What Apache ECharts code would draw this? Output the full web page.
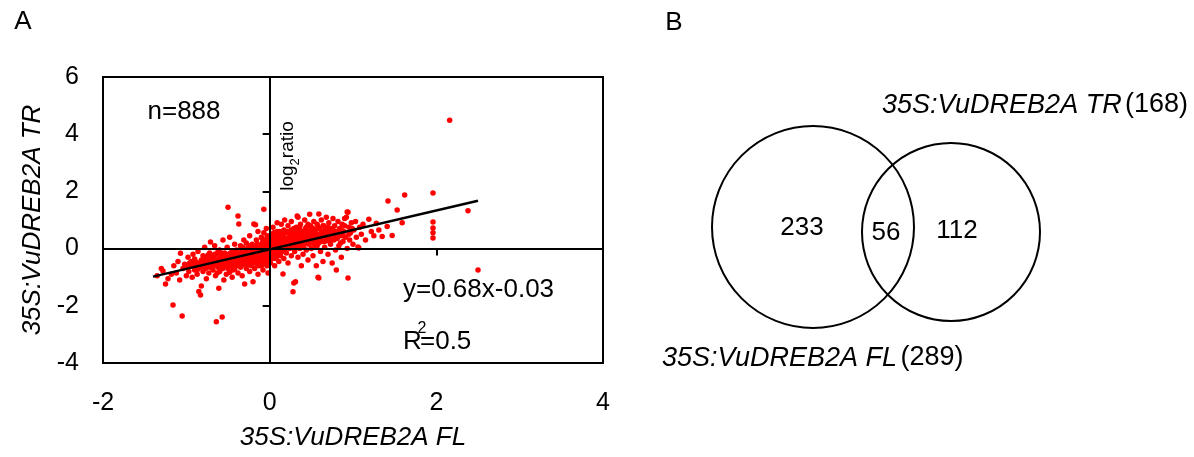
<!DOCTYPE html>
<html><head><meta charset="utf-8">
<script src="https://cdn.jsdelivr.net/npm/echarts@6/dist/echarts.min.js"></script>
<style>html,body{margin:0;padding:0;background:#fff}#c{width:1194px;height:457px}</style>
</head><body><div id="c"></div>
<script>
const FONT = '"Liberation Sans", Arial, Helvetica, sans-serif';
// ---- Panel A data ----
const xAxisTitle = '35S:VuDREB2A FL';
const yAxisTitle = '35S:VuDREB2A TR';
const xRange = [-2, 4], xStep = 2;
const yRange = [-4, 6], yStep = 2;
const nText = 'n=888';
const fitText = 'y=0.68x-0.03';
const r2Value = '0.5';
const fitLine = [[-1.4, -0.98], [2.5, 1.67]];
const points = [
[-1.35,-0.95],[-1.3,-0.7],[-1.28,-0.78],[-1.25,-1.24],[-1.22,-1.05],[-1.18,-0.9],[-1.16,-1.97],[-1.15,-0.6],[-1.12,-0.85],[-1.1,-0.45],[-1.08,-1.1],[-1.07,-0.16],[-1.05,-2.36],[-1.04,-0.7],[-1.02,-0.55],[-1.0,-0.95],[-0.98,-0.3],[-0.97,-0.8],
[-0.95,-0.62],[-0.94,-0.45],[-0.93,-1.0],[-0.92,-0.2],[-0.9,-0.36],[-0.9,-0.75],[-0.88,-0.55],[-0.87,-0.9],[-0.86,-0.1],[-0.85,-1.5],[-0.84,-0.65],[-0.83,-1.62],[-0.82,-1.31],[-0.82,-0.4],[-0.8,-0.8],[-0.8,-0.25],[-0.79,-0.55],[-0.78,0.05],[-0.77,-0.7],[-0.76,-1.05],[-0.75,-0.35],[-0.74,-0.5],[-0.73,-0.85],[-0.72,-0.15],[-0.71,0.23],[-0.7,-0.6],[-0.7,-0.42],
[-0.69,-0.3],[-0.68,-0.75],[-0.67,-0.5],[-0.66,0.1],[-0.65,-0.95],[-0.64,-2.56],[-0.64,-0.2],[-0.63,-0.62],[-0.62,-0.38],[-0.61,-1.39],[-0.6,-0.05],[-0.6,-0.8],[-0.59,-0.48],[-0.58,-0.25],[-0.57,-2.39],[-0.57,-0.65],[-0.56,0.3],[-0.55,-0.4],[-0.55,-1.1],[-0.54,-0.15],[-0.53,-0.55],[-0.52,-0.9],[-0.52,-0.3],[-0.51,0.05],[-0.5,1.45],[-0.5,-0.45],[-0.5,-0.7],[-0.49,-0.2],[-0.48,-0.83],[-0.48,0.4],[-0.47,-0.35],[-0.46,-0.6],[-0.45,-0.1],[-0.45,-1.0],[-0.44,-0.5],[-0.43,-0.25],[-0.42,0.15],[-0.42,-0.72],[-0.41,-0.4],[-0.4,-0.05],[-0.4,-0.58],
[-0.39,-0.3],[-0.38,1.14],[-0.38,-0.85],[-0.37,0.86],[-0.37,-0.15],[-0.36,-0.48],[-0.35,0.1],[-0.35,-0.65],[-0.34,-0.35],[-0.33,-0.05],[-0.33,-0.95],[-0.32,-0.25],[-0.31,0.3],[-0.31,-0.55],[-0.3,-1.24],[-0.3,-0.4],[-0.29,-0.1],[-0.28,-0.7],[-0.28,0.2],[-0.27,-0.3],[-0.26,0.02],[-0.26,-0.5],[-0.25,-0.2],[-0.24,0.45],[-0.24,-0.8],[-0.23,-0.38],[-0.22,-0.08],[-0.22,-0.6],[-0.21,0.15],[-0.2,-1.16],[-0.2,-0.28],[-0.19,0.86],[-0.19,-0.45],[-0.18,0.05],[-0.18,-0.7],[-0.17,0.83],[-0.17,-0.2],[-0.16,0.3],[-0.16,-0.52],[-0.15,-0.05],[-0.15,-0.35],[-0.14,0.6],[-0.14,-0.9],[-0.13,-0.15],[-0.12,0.12],[-0.12,-0.45],[-0.11,-0.25],[-0.1,0.4],[-0.1,-0.6],[-0.1,0.0],
[-0.09,-0.3],[-0.09,0.2],[-0.08,-0.1],[-0.08,-0.75],[-0.07,1.38],[-0.07,0.55],[-0.07,-0.4],[-0.06,0.05],[-0.06,-0.2],[-0.05,0.3],[-0.05,-0.55],[-0.04,-0.05],[-0.04,0.7],[-0.03,-0.3],[-0.03,0.15],[-0.02,-0.15],[-0.02,-0.85],[-0.01,0.4],[-0.01,0.0],[0.0,-0.25],[0.0,0.25],[0.01,-0.5],[0.01,0.08],[0.02,0.5],[0.02,-0.1],[0.03,0.2],[0.03,-0.35],[0.04,0.0],[0.04,0.75],[0.05,-0.2],[0.05,0.35],[0.06,0.1],[0.06,-0.6],[0.07,0.55],[0.07,-0.05],[0.08,0.25],[0.08,-0.3],[0.09,0.9],[0.09,0.05],[0.1,0.4],[0.1,-0.15],
[0.11,0.2],[0.11,-0.45],[0.12,0.6],[0.12,0.0],[0.13,0.3],[0.13,-0.25],[0.14,0.85],[0.14,0.1],[0.15,0.45],[0.15,-0.1],[0.16,-0.89],[0.16,0.25],[0.17,0.65],[0.17,-0.35],[0.18,0.05],[0.18,1.0],[0.19,0.35],[0.2,-0.15],[0.2,0.55],[0.21,0.15],[0.22,0.8],[0.22,-0.5],[0.23,0.3],[0.24,0.0],[0.24,0.6],[0.25,0.2],[0.26,-0.25],[0.26,0.95],[0.27,0.45],[0.28,-1.51],[0.28,0.1],[0.29,-1.2],[0.29,0.7],[0.3,0.3],[0.3,-0.1],[0.31,-1.16],[0.31,0.55],[0.32,0.15],[0.33,1.14],[0.33,0.4],[0.34,1.1],[0.34,-0.3],[0.35,0.65],[0.35,0.2],[0.36,0.0],[0.37,0.85],[0.37,0.45],[0.38,-0.6],[0.38,0.3],[0.39,0.1],[0.4,0.6],[0.4,-0.2],
[0.41,0.4],[0.42,1.0],[0.42,0.2],[0.43,0.7],[0.44,-0.05],[0.44,0.5],[0.45,0.3],[0.46,0.85],[0.46,-0.4],[0.47,0.15],[0.48,0.6],[0.48,1.2],[0.49,0.35],[0.5,0.0],[0.5,0.75],[0.51,0.5],[0.52,-0.25],[0.52,0.25],[0.53,0.95],[0.54,0.4],[0.55,0.1],[0.55,0.65],[0.56,-0.6],[0.57,0.3],[0.57,0.85],[0.58,-1.0],[0.58,0.5],[0.59,1.21],[0.59,0.2],[0.59,-1.03],[0.6,0.7],[0.61,-0.1],[0.61,0.4],[0.62,1.0],[0.63,0.55],[0.64,0.25],[0.64,-0.45],[0.65,0.8],[0.66,0.05],[0.66,0.45],[0.67,0.65],[0.68,1.1],[0.69,0.3],[0.7,-0.2],[0.7,0.55],
[0.71,0.9],[0.72,0.4],[0.73,0.15],[0.74,0.7],[0.75,-0.5],[0.75,0.5],[0.76,1.05],[0.77,0.3],[0.78,0.8],[0.79,-0.05],[0.8,-0.75],[0.8,0.6],[0.81,0.35],[0.82,0.95],[0.83,0.1],[0.84,0.7],[0.85,0.45],[0.86,-0.3],[0.87,0.85],[0.88,0.25],[0.89,0.6],[0.9,1.05],[0.91,0.4],[0.92,1.1],[0.93,1.28],[0.93,0.0],[0.94,-1.03],[0.94,1.27],[0.95,0.75],[0.96,0.3],[0.97,0.55],[0.98,0.9],[1.0,0.15],[1.01,0.65],[1.03,0.95],[1.04,0.4],[1.06,0.06],[1.07,0.02],[1.08,0.75],[1.1,0.5],
[1.12,0.85],[1.15,0.3],[1.19,1.03],[1.22,0.6],[1.25,0.45],[1.28,0.89],[1.31,0.65],[1.35,0.42],[1.41,0.77],[1.42,1.66],[1.47,0.46],[1.53,1.35],[1.59,0.9],[1.62,1.87],[1.96,1.94],[1.96,0.93],[1.96,0.72],[1.96,0.55],[1.96,0.37],[2.16,4.49],[2.38,1.32],[2.5,-0.75],
[-0.62,-0.1],[-0.58,-0.55],[-0.54,-0.35],[-0.47,-0.15],[-0.44,-0.75],[-0.41,-0.2],[-0.36,-0.25],[-0.34,-0.6],[-0.32,0.05],[-0.29,-0.45],[-0.27,-0.15],[-0.25,-0.55],[-0.23,0.1],[-0.21,-0.35],[-0.2,-0.05],[-0.18,-0.3],[-0.16,0.1],[-0.14,-0.3],[-0.13,-0.6],[-0.11,0.05],[-0.09,-0.5],[-0.07,0.15],[-0.05,-0.3],[-0.03,0.45],[-0.02,-0.45],[0.0,0.1],[0.02,0.3],[0.03,-0.2],[0.05,0.55],[0.06,-0.35],[0.08,0.45],[0.09,-0.05],[0.11,0.35],[0.12,-0.2],[0.14,0.5],[0.15,0.2],[0.17,0.4],[0.19,0.0],[0.21,0.6],[0.23,0.1],[0.25,0.4],[0.27,0.25],[0.29,0.5],[0.31,0.05],[0.32,0.75],[0.34,0.35],[0.36,0.55],[0.39,0.45],[0.41,0.1],[0.43,0.35],[0.45,0.55],[0.47,0.4],[0.49,0.8],[0.51,0.2],[0.53,0.6],[0.55,0.35],[0.57,0.1],[0.6,0.45],[0.62,0.3],[0.65,0.6],[0.68,0.4],[0.72,0.65],[0.78,0.45],[0.85,0.2],[-0.8,-0.5],[-0.76,-0.3],[-0.72,-0.65],[-0.68,-0.45],[-0.66,-0.2],[-0.63,-0.85],[-0.6,-0.35],[-0.56,-0.7],
[-0.98,-0.65],[-0.96,-0.5],[-0.91,-0.6],[-0.89,-0.45],[-0.86,-0.72],[-0.83,-0.48],[-0.81,-0.62],[-0.78,-0.4],[-0.76,-0.58],[-0.74,-0.22],[-0.71,-0.5],[-0.69,-0.62],[-0.67,-0.32],[-0.65,-0.55],[-0.63,-0.45],[-0.61,-0.68],[-0.59,-0.15],[-0.57,-0.42],[-0.55,-0.6],[-0.53,-0.2],[-0.51,-0.5],[-0.49,-0.62],[-0.47,-0.45],[-0.45,-0.3],[-0.43,-0.6],[-0.41,-0.1],[-0.39,-0.45],[-0.37,-0.6],[-0.35,-0.2],[-0.33,-0.45],[-0.31,-0.15],[-0.29,-0.3],[-0.27,-0.55],[-0.25,0.05],[-0.23,-0.25],[-0.21,-0.5],[-0.19,-0.15],[-0.17,-0.4],[-0.15,0.15],[-0.13,-0.35],[-0.11,-0.1],[-0.09,0.35],[-0.07,-0.25],[-0.05,0.1],[-0.03,-0.6],[-0.01,-0.2],
[0.01,0.2],[0.03,0.4],[0.05,0.0],[0.07,0.3],[0.09,0.6],[0.1,0.15],[0.12,0.45],[0.14,0.3],[0.16,0.55],[0.18,0.2],[0.2,0.35],[0.22,0.05],[0.24,0.45],[0.26,0.65],[0.28,0.35],[0.3,0.15],[0.32,0.5],[0.34,0.05],[0.36,0.75],[0.38,0.55],[0.4,0.25],[0.42,0.5],[0.44,0.75],[0.46,0.25],[0.48,0.45],[0.5,0.35],[0.52,0.7],[0.54,0.15],[0.56,0.5],[0.58,0.75],[0.6,0.3],[0.62,0.6],[0.64,0.8],[0.66,0.25],[0.68,0.55],[0.7,0.75],[0.72,0.25],[0.74,0.5],[0.76,0.65],[0.8,0.4],[0.82,0.55],[0.86,0.65],[0.88,0.45],[0.9,0.8],[0.95,0.5],[0.99,0.7]
];
// ---- Panel B data ----
const vennSets = ['35S:VuDREB2A FL', '35S:VuDREB2A TR'];
const vennTotals = [289, 168];
const vennRegions = [233, 56, 112]; // FL only, both, TR only

// layout of the Venn (in the hidden pixel-unit grid)
const vennCircleGeom = [[173, 147, 101], [311, 152, 89]];
const vennNumberPos = [[162, 148], [246, 153], [317, 151]];

const chart = echarts.init(document.getElementById('c'), null, {renderer: 'canvas'});
const axisFont = {fontFamily: FONT, fontSize: 25, color: '#000'};
const option = {
  animation: false,
  backgroundColor: '#fff',
  textStyle: {fontFamily: FONT},
  grid: [
    {left: 103, top: 77, width: 500, height: 286, show: true, borderColor: '#000', borderWidth: 2, backgroundColor: 'transparent'},
    {left: 640, top: 80, width: 554, height: 300}
  ],
  xAxis: [
    {gridIndex: 0, type: 'value', min: xRange[0], max: xRange[1], interval: xStep, position: 'bottom',
     axisLine: {show: false, onZero: false}, axisTick: {show: false}, splitLine: {show: false},
     axisLabel: Object.assign({margin: 28}, axisFont),
     name: xAxisTitle, nameLocation: 'middle', nameGap: 62,
     nameTextStyle: {fontFamily: FONT, fontSize: 26, fontStyle: 'italic', color: '#000'}},
    {gridIndex: 0, type: 'value', min: xRange[0], max: xRange[1], interval: xStep, position: 'bottom', z: 5,
     axisLine: {show: true, onZero: true, onZeroAxisIndex: 0, lineStyle: {color: '#000', width: 2}},
     axisTick: {show: true, length: 7, lineStyle: {color: '#000', width: 2}},
     axisLabel: {show: false}, splitLine: {show: false}},
    {gridIndex: 1, type: 'value', min: 0, max: 554, show: false}
  ],
  yAxis: [
    {gridIndex: 0, type: 'value', min: yRange[0], max: yRange[1], interval: yStep, position: 'left',
     axisLine: {show: false, onZero: false}, axisTick: {show: false}, splitLine: {show: false},
     axisLabel: Object.assign({margin: 24}, axisFont),
     name: yAxisTitle, nameLocation: 'middle', nameGap: 57,
     nameTextStyle: {fontFamily: FONT, fontSize: 26, fontStyle: 'italic', color: '#000'}},
    {gridIndex: 0, type: 'value', min: yRange[0], max: yRange[1], interval: yStep, position: 'left', z: 5,
     axisLine: {show: true, onZero: true, onZeroAxisIndex: 0, lineStyle: {color: '#000', width: 2}},
     axisTick: {show: true, length: 7, lineStyle: {color: '#000', width: 2}},
     axisLabel: {show: false}, splitLine: {show: false}},
    {gridIndex: 1, type: 'value', min: 0, max: 300, inverse: true, show: false}
  ],
  series: [
    {type: 'scatter', xAxisIndex: 0, yAxisIndex: 0, data: points, symbol: 'circle', symbolSize: 5.5,
     itemStyle: {color: '#ff0000', opacity: 1}, z: 2, silent: true},
    {type: 'line', xAxisIndex: 0, yAxisIndex: 0, data: fitLine, symbol: 'none', z: 6,
     lineStyle: {color: '#000', width: 2.5}, silent: true},
    {type: 'custom', xAxisIndex: 2, yAxisIndex: 2, data: vennCircleGeom, silent: true,
     renderItem: function (params, api) {
       const c = api.coord([api.value(0), api.value(1)]);
       const r = api.size([api.value(2), 0])[0];
       return {type: 'circle', shape: {cx: c[0], cy: c[1], r: r},
               style: {fill: 'none', stroke: '#000', lineWidth: 2}};
     }},
    {type: 'custom', xAxisIndex: 2, yAxisIndex: 2, silent: true,
     data: vennRegions.map((v, i) => [vennNumberPos[i][0], vennNumberPos[i][1], v]),
     renderItem: function (params, api) {
       const c = api.coord([api.value(0), api.value(1)]);
       return {type: 'text', x: c[0], y: c[1],
               style: {text: String(api.value(2)), fontFamily: FONT, fontSize: 26, fill: '#000',
                       align: 'center', verticalAlign: 'middle'}};
     }}
  ],
  graphic: [
    {type: 'text', x: 23, y: 22, style: {text: 'A', fontFamily: FONT, fontSize: 26, fill: '#000', align: 'center', verticalAlign: 'middle'}},
    {type: 'text', x: 674, y: 23, style: {text: 'B', fontFamily: FONT, fontSize: 26, fill: '#000', align: 'center', verticalAlign: 'middle'}},
    {type: 'text', x: 184, y: 112, z: 10, style: {text: nText, fontFamily: FONT, fontSize: 26, fill: '#000', align: 'center', verticalAlign: 'middle'}},
    {type: 'text', x: 403, y: 290, z: 10, style: {text: fitText, fontFamily: FONT, fontSize: 26, fill: '#000', align: 'left', verticalAlign: 'middle'}},
    {type: 'text', x: 403, y: 342, z: 10, style: {text: 'R', fontFamily: FONT, fontSize: 26, fill: '#000', align: 'left', verticalAlign: 'middle'}},
    {type: 'text', x: 422, y: 329, z: 10, style: {text: '2', fontFamily: FONT, fontSize: 16, fill: '#000', align: 'center', verticalAlign: 'middle'}},
    {type: 'text', x: 420, y: 342, z: 10, style: {text: '=' + r2Value, fontFamily: FONT, fontSize: 26, fill: '#000', align: 'left', verticalAlign: 'middle'}},
    {type: 'text', x: 288, y: 156, z: 10, rotation: Math.PI / 2,
     style: {text: '{m|log}{s|2}{m|ratio}', align: 'center', verticalAlign: 'middle',
             rich: {m: {fontFamily: FONT, fontSize: 19, fill: '#000', lineHeight: 28, verticalAlign: 'middle'},
                    s: {fontFamily: FONT, fontSize: 13, fill: '#000', lineHeight: 15, verticalAlign: 'bottom'}}}},
    {type: 'text', x: 1188, y: 105,
     style: {text: '{i|' + vennSets[1] + '} {n|(' + vennTotals[1] + ')}', align: 'right', verticalAlign: 'middle',
             rich: {i: {fontFamily: FONT, fontSize: 27, fontStyle: 'italic', fill: '#000'},
                    n: {fontFamily: FONT, fontSize: 27, fill: '#000'}}}},
    {type: 'text', x: 662, y: 358,
     style: {text: '{i|' + vennSets[0] + '} {n|(' + vennTotals[0] + ')}', align: 'left', verticalAlign: 'middle',
             rich: {i: {fontFamily: FONT, fontSize: 27, fontStyle: 'italic', fill: '#000'},
                    n: {fontFamily: FONT, fontSize: 27, fill: '#000'}}}}
  ]
};
chart.setOption(option);
</script>
</body></html>
